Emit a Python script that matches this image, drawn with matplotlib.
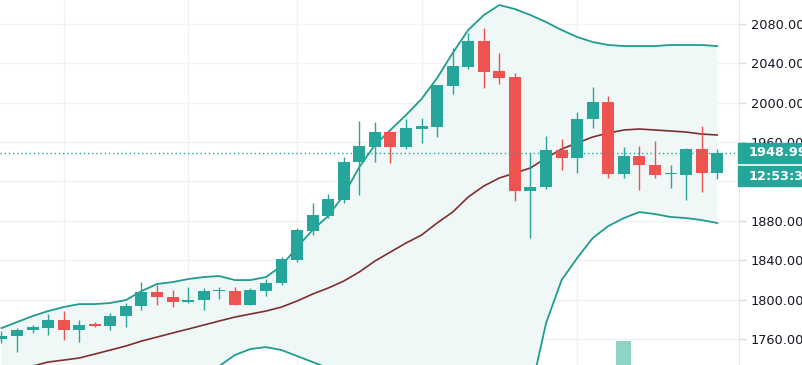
import matplotlib
matplotlib.use("Agg")
import matplotlib.pyplot as plt
import numpy as np
from matplotlib.patches import Rectangle

# candles (open, high, low, close)
opens = [1759.9, 1762.9, 1769.0, 1771.0, 1779.2, 1769.0, 1775.1, 1773.1, 1783.2, 1793.4,
         1807.6, 1802.5, 1797.5, 1799.5, 1808.6, 1808.6, 1794.4, 1808.6, 1816.8, 1840.2,
         1869.6, 1884.9, 1901.1, 1939.8, 1955.0, 1970.2, 1955.0, 1973.3, 1975.3, 2017.0,
         2036.3, 2062.7, 2032.2, 2026.1, 1910.3, 1914.3, 1951.9, 1943.8, 1983.5, 2000.7,
         1927.6, 1945.8, 1936.7, 1927.4, 1926.5, 1953.0, 1928.6]
highs = [1768.0, 1771.0, 1774.1, 1785.3, 1788.3, 1779.2, 1777.1, 1786.3, 1796.5, 1817.8,
         1814.7, 1809.7, 1812.7, 1811.7, 1812.7, 1812.7, 1811.7, 1820.8, 1843.2, 1872.7,
         1898.1, 1907.2, 1944.8, 1981.4, 1980.4, 1970.6, 1983.5, 1984.5, 2018.5, 2055.6,
         2070.9, 2075.9, 2050.5, 2030.2, 1948.9, 1966.2, 1963.1, 1990.6, 2016.0, 2006.8,
         1955.0, 1956.0, 1961.1, 1936.7, 1954.0, 1976.3, 1953.0]
lows = [1755.8, 1746.7, 1766.0, 1763.9, 1758.8, 1756.8, 1772.1, 1769.0, 1772.1, 1789.3,
        1794.4, 1792.4, 1797.0, 1789.3, 1800.5, 1794.4, 1794.0, 1803.6, 1814.7, 1838.1,
        1865.6, 1882.8, 1898.1, 1906.2, 1939.8, 1938.7, 1953.0, 1959.1, 1965.2, 2008.9,
        2034.3, 2015.0, 2019.0, 1900.1, 1862.5, 1912.3, 1931.6, 1928.6, 1974.3, 1923.5,
        1923.5, 1911.3, 1923.5, 1913.3, 1901.1, 1909.3, 1922.5]
closes = [1762.9, 1769.0, 1772.1, 1779.2, 1769.0, 1774.1, 1773.1, 1783.2, 1793.4, 1807.6,
          1802.5, 1797.5, 1799.5, 1808.6, 1808.9, 1794.6, 1809.7, 1816.8, 1841.2, 1870.6,
          1885.9, 1902.1, 1939.8, 1956.0, 1970.2, 1955.0, 1974.3, 1976.3, 2018.0, 2037.3,
          2062.7, 2031.2, 2025.1, 1910.3, 1914.3, 1951.9, 1943.8, 1983.5, 2000.7, 1927.6,
          1945.8, 1936.7, 1926.5, 1927.6, 1953.0, 1928.6, 1948.99]

# bollinger bands
bb_upper = [1771.0, 1777.1, 1783.2, 1788.3, 1792.4, 1795.4, 1795.4, 1796.5, 1799.5, 1808.6,
            1815.8, 1817.8, 1820.8, 1822.9, 1823.9, 1819.8, 1819.8, 1822.9, 1834.1, 1853.4,
            1870.6, 1884.9, 1906.2, 1934.7, 1957.0, 1972.3, 1987.5, 2003.8, 2025.1, 2050.5,
            2073.9, 2089.1, 2099.3, 2095.2, 2089.1, 2082.0, 2073.9, 2066.8, 2061.7, 2058.7,
            2057.6, 2057.6, 2057.6, 2058.7, 2058.7, 2058.7, 2057.6]
bb_mid = [1724.3, 1729.4, 1732.4, 1736.5, 1738.5, 1740.6, 1744.6, 1748.7, 1752.8, 1757.8,
          1761.9, 1766.0, 1770.0, 1774.1, 1778.2, 1782.2, 1785.3, 1788.3, 1792.4, 1798.5,
          1805.6, 1811.7, 1818.8, 1828.0, 1839.1, 1848.3, 1857.4, 1865.6, 1877.8, 1888.9,
          1904.2, 1915.4, 1923.5, 1928.6, 1933.7, 1943.8, 1953.0, 1959.1, 1965.2, 1969.2,
          1972.3, 1973.3, 1972.3, 1971.3, 1970.2, 1968.2, 1967.2]
bb_lower = [1677.5, 1681.6, 1681.6, 1684.7, 1684.7, 1685.7, 1693.8, 1700.9, 1706.0, 1707.0,
            1708.0, 1714.1, 1719.2, 1725.3, 1732.4, 1743.6, 1749.7, 1751.7, 1748.7, 1742.6,
            1736.5, 1730.4, 1718.2, 1706.0, 1697.9, 1692.8, 1687.7, 1682.6, 1677.5, 1672.5,
            1672.5, 1677.5, 1687.7, 1697.9, 1705.0, 1776.0, 1819.8, 1842.2, 1862.5, 1874.7,
            1882.8, 1888.9, 1886.9, 1883.9, 1882.8, 1880.8, 1877.8]

volume = [0] * 47
volume[40] = 1.0

price_ticks = [1760, 1800, 1840, 1880, 1920, 1960, 2000, 2040, 2080]
time_grid = [4, 12, 19, 27, 37]
last_price = "1948.99"
countdown = "12:53:39"

green = "#26a69a"
red = "#ef5350"

W, H = 803, 365
fig = plt.figure(figsize=(W / 100, H / 100), dpi=100)
ax = fig.add_axes([0, 0, 739 / W, 1])

n = len(opens)
x = np.arange(n)
o = np.array(opens)
c = np.array(closes)
up = c >= o
cols = np.where(up, green, red)

# grid
for t in price_ticks:
    ax.axhline(t, color="#f0f2f5", lw=1, zorder=0)
for t in time_grid:
    ax.axvline(t, color="#f0f2f5", lw=1, zorder=0)

# bands
ax.fill_between(x, bb_lower, bb_upper, color="#f0f7f7", lw=0, zorder=1)
ax.plot(x, bb_upper, color="#1f9d8e", lw=1.3, zorder=2)
ax.plot(x, bb_lower, color="#1f9d8e", lw=1.3, zorder=2)
ax.plot(x, bb_mid, color="#7f2f30", lw=1.2, zorder=2)

# volume on its own scale
vax = ax.twinx()
vax.bar(x, volume, width=0.97, color="#8fd3c7", lw=0, zorder=1)
vax.set_ylim(0, 365 / 24)
vax.axis("off")

# candles
ax.vlines(x, lows, highs, colors=cols, lw=1.0, zorder=3)
body_low = np.minimum(o, c)
body_h = np.maximum(np.abs(c - o), 1.0)
ax.bar(x, body_h, bottom=body_low, width=0.77, color=cols, lw=0, zorder=4)

# last price line
ax.axhline(float(last_price), color=green, lw=1, ls=(0, (1, 2)), zorder=5)

ax.set_xlim(-0.09, 47.4)
ax.set_ylim(1733.5, 2104.4)
ax.set_xticks([])
ax.yaxis.tick_right()
ax.set_yticks(price_ticks)
ax.set_yticklabels([f"{t:.2f}" for t in price_ticks])
ax.tick_params(axis="y", length=5, width=1, color="#d9dbe0", pad=3.6,
               labelsize=9.3, labelcolor="#131722")
for s in ["top", "bottom", "left"]:
    ax.spines[s].set_visible(False)
ax.spines["right"].set_color("#e6e8ec")

# price label boxes
fig.patches.append(Rectangle((738 / W, 1 - 163 / H), 70 / W, 20 / H,
                             transform=fig.transFigure, color=green, zorder=5))
fig.patches.append(Rectangle((738 / W, 1 - 186 / H), 70 / W, 20 / H,
                             transform=fig.transFigure, color=green, zorder=5))
fig.text(749 / W, 1 - 153 / H, last_price, color="white", fontsize=9.3,
         fontweight="bold", va="center", ha="left", zorder=6)
fig.text(749 / W, 1 - 176 / H, countdown, color="white", fontsize=9.3,
         fontweight="bold", va="center", ha="left", zorder=6)

fig.savefig("out.png", dpi=100, facecolor="white")
